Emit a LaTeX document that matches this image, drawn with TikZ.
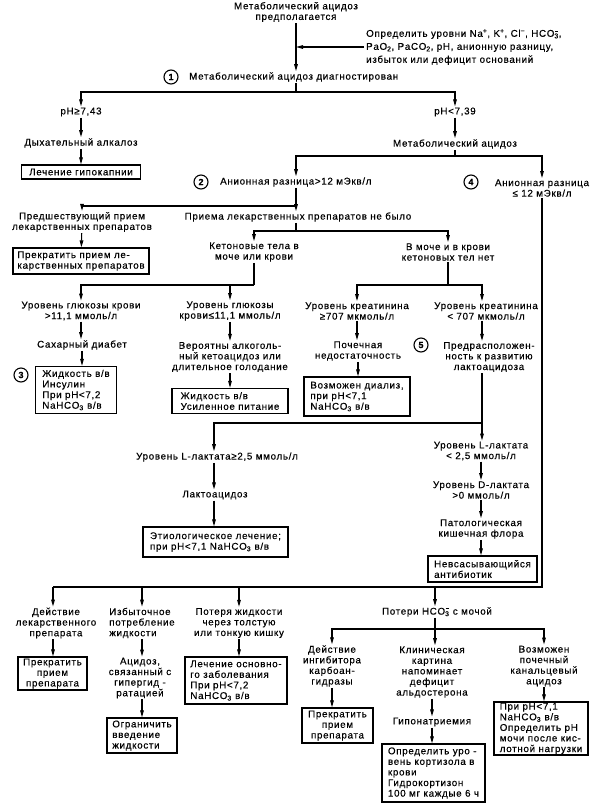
\documentclass[tikz,border=0pt]{standalone}
\usepackage{fontspec}
\setmainfont{Liberation Sans}[LetterSpace=7,FakeBold=0.4]
\usetikzlibrary{arrows.meta}
\newcommand{\hco}{HCO\rlap{\raisebox{5.6pt}{\kern0.6pt\rule{3.4pt}{0.55pt}}}\textsubscript{3}}
\newcommand{\nah}{NaHCO\textsubscript{3}}
\begin{document}
\begin{tikzpicture}[x=1pt,y=-1pt,font=\fontsize{9.8}{10.6}\selectfont,
 txt/.style={inner sep=1pt, align=center},
 bx/.style={draw, line width=1.3pt, inner xsep=2pt, inner ysep=1pt, align=left},
 num/.style={circle, draw, line width=1.1pt, inner sep=0pt, minimum size=14pt, font=\bfseries\fontsize{9}{10}\selectfont},
 ln/.style={line width=1.1pt},
 arr/.style={line width=1.1pt, -{Triangle[length=7pt,width=3.6pt]}}]
\useasboundingbox (0,0) rectangle (600,807);

\node[txt] (t0) at (296,12) {Метаболический ацидоз\\предполагается};
\node[txt,align=left,anchor=west,font=\fontsize{9.8}{13}\selectfont,inner sep=2pt] (side) at (364,47) {Определить уровни Na\textsuperscript{+}, K\textsuperscript{+}, Cl\textsuperscript{−}, \hco,\\PaO\textsubscript{2}, PaCO\textsubscript{2}, pH, анионную разницу,\\избыток или дефицит оснований};
\node[num] (k1) at (171,77) {1};
\node[txt,anchor=west] (n1) at (188,77) {Метаболический ацидоз диагностирован};
\coordinate (j1) at (296,92);
\node[txt] (ph1) at (81,112) {pH≥7,43};
\node[txt] (ph2) at (455,112) {pH<7,39};
\node[txt] (dy) at (81,143) {Дыхательный алкалоз};
\node[bx,minimum width=119pt,minimum height=14pt] (bx1) at (81,172) {Лечение гипокапнии};
\node[txt] (ma) at (455,144) {Метаболический ацидоз};
\coordinate (j2) at (455,156);
\node[num] (k2) at (201,182) {2};
\node[txt,anchor=west] (n2) at (219,182) {Анионная разница>12 мЭкв/л};
\node[num] (k4) at (471,182) {4};
\node[txt] (n4) at (542,188) {Анионная разница\\≤ 12 мЭкв/л};
\coordinate (j3) at (296,206);
\node[txt] (pp) at (82,222) {Предшествующий прием\\лекарственных препаратов};
\node[bx,minimum width=136pt,minimum height=26pt] (bx2) at (81,261) {Прекратить прием ле-\\карственных препаратов};
\node[txt] (nb) at (298,217) {Приема лекарственных препаратов не было};
\coordinate (j4) at (296,231);
\node[txt] (ket) at (254,252) {Кетоновые тела в\\моче или крови};
\node[txt] (nok) at (448,252) {В моче и в крови\\кетоновых тел нет};
\coordinate (j5) at (254,285);
\coordinate (j6) at (448,285);
\node[txt] (g1) at (81,311) {Уровень глюкозы крови\\>11,1 ммоль/л};
\node[txt] (g2) at (230,311) {Уровень глюкозы\\крови≤11,1 ммоль/л};
\node[txt] (cr1) at (357,311) {Уровень креатинина\\≥707 мкмоль/л};
\node[txt] (cr2) at (486,311) {Уровень креатинина\\< 707 мкмоль/л};
\coordinate (cC) at (482,0);
\node[txt] (sd) at (82,345) {Сахарный диабет};
\node[num] (k3) at (21,375) {3};
\node[bx,minimum width=81pt,minimum height=47pt] (bx3) at (76,390) {Жидкость в/в\\Инсулин\\При pH<7,2\\\nah{} в/в};
\node[txt] (va) at (230,357) {Вероятны алкоголь-\\ный кетоацидоз или\\длительное голодание};
\node[bx,minimum width=116pt,minimum height=25pt] (bx4) at (230,401) {Жидкость в/в\\Усиленное питание};
\node[txt] (pn) at (358,351) {Почечная\\недостаточность};
\node[bx,minimum width=106pt,minimum height=39pt] (bx5) at (357,396.5) {Возможен диализ,\\при pH<7,1\\\nah{} в/в};
\node[num] (k5) at (421,345) {5};
\node[txt] (pr5) at (489,357) {Предрасположен-\\ность к развитию\\лактоацидоза};
\coordinate (j7) at (482,423);
\node[txt] (ll1) at (217,457) {Уровень L-лактата≥2,5 ммоль/л};
\coordinate (cL) at (214,0);
\node[txt] (ll2) at (481,451) {Уровень L-лактата\\< 2,5 ммоль/л};
\node[txt] (la) at (215,495) {Лактоацидоз};
\node[bx,minimum width=145pt,minimum height=30pt] (bx6) at (215.5,542) {Этиологическое лечение;\\при pH<7,1 \nah{} в/в};
\node[txt] (dl) at (481,490) {Уровень D-лактата\\>0 ммоль/л};
\node[txt] (pf) at (481,529) {Патологическая\\кишечная флора};
\node[bx,minimum width=109pt,minimum height=26pt] (bx7) at (482.5,569) {Невсасывающийся\\антибиотик};
\coordinate (j9) at (53,587);
\node[txt] (d1) at (56,623) {Действие\\лекарственного\\препарата};
\node[bx,align=center,minimum width=69pt,minimum height=33pt] (bx8) at (52.5,673.5) {Прекратить\\прием\\препарата};
\node[txt,align=left] (d2) at (142,623) {Избыточное\\потребление\\жидкости};
\node[txt] (d2b) at (140,678) {Ацидоз,\\связанный с\\гипергид -\\ратацией};
\node[bx,minimum width=70pt,minimum height=35pt] (bx9) at (142,735.5) {Ограничить\\введение\\жидкости};
\node[txt] (d3) at (239,623) {Потеря жидкости\\через толстую\\или тонкую кишку};
\node[bx,minimum width=102pt,minimum height=47pt] (bx10) at (236,680.5) {Лечение основно-\\го заболевания\\При pH<7,2\\\nah{} в/в};
\node[txt] (ph) at (437,612) {Потери \hco{} с мочой};
\coordinate (j10) at (435,629);
\node[txt] (e1) at (332,666) {Действие\\ингибитора\\карбоан-\\гидразы};
\node[bx,align=center,minimum width=71pt,minimum height=35pt] (bx11) at (337.5,725.5) {Прекратить\\прием\\препарата};
\node[txt] (e2) at (432,672) {Клиническая\\картина\\напоминает\\дефицит\\альдостерона};
\node[txt] (gn) at (432,722) {Гипонатриемия};
\node[bx,minimum width=103pt,minimum height=58pt] (bx12) at (433.5,773) {Определить уро -\\вень кортизола в\\крови\\Гидрокортизон\\100 мг каждые 6 ч};
\node[txt] (e3) at (544,666) {Возможен\\почечный\\канальцевый\\ацидоз};
\node[bx,minimum width=94pt,minimum height=49pt] (bx13) at (541,728.5) {При pH<7,1\\\nah{} в/в\\Определить pH\\мочи после кис-\\лотной нагрузки};

\draw[arr] (t0) -- (n1.north -| t0);
\draw[arr] (side.west) -- (side.west -| t0);
\draw[ln] (n1.south -| t0) -- (j1);
\draw[arr] (j1) -| (ph1);
\draw[arr] (j1) -| (ph2);
\draw[arr] (ph1) -- (dy);
\draw[arr] (dy) -- (bx1);
\draw[arr] (ph2) -- (ma);
\draw[ln] (ma) -- (j2);
\draw[arr] (j2) -| (n2.north -| j1);
\draw[arr] (j2) -| (n4);
\draw[ln] (n2.south -| j1) -- (j3);
\draw[arr] (j3) -| (pp);
\draw[arr] (j3) -- (nb.north -| j3);
\draw[arr] (pp) -- (bx2);
\draw[ln] (nb.south -| j4) -- (j4);
\draw[arr] (j4) -| (ket);
\draw[arr] (j4) -| (nok);
\draw[ln] (ket) -- (j5);
\draw[arr] (j5) -| (g1);
\draw[arr] (j5 -| g2) -- (g2);
\draw[ln] (nok) -- (j6);
\draw[arr] (j6) -| (cr1);
\draw[arr] (j6) -| (cr2.north -| cC);
\draw[arr] (g1) -- (g1 |- sd.north);
\draw[arr] (sd) -- (sd |- bx3.north);
\draw[arr] (g2) -- (va);
\draw[arr] (va) -- (va |- bx4.north);
\draw[arr] (cr1) -- (cr1 |- pn.north);
\draw[arr] (pn) -- (pn |- bx5.north);
\draw[arr] (cr2.south -| cC) -- (pr5.north -| cC);
\draw[ln] (pr5.south -| cC) -- (j7);
\draw[arr] (j7) -| (ll1.north -| cL);
\draw[arr] (j7) -- (ll2.north -| j7);
\draw[arr] (ll1.south -| cL) -- (la.north -| cL);
\draw[arr] (la.south -| cL) -- (cL |- bx6.north);
\draw[arr] (ll2) -- (dl);
\draw[arr] (dl) -- (pf);
\draw[arr] (pf) -- (pf |- bx7.north);
\draw[ln] (n4.south) |- (j9);
\draw[arr] (j9) -- (j9 |- d1.north);
\draw[arr] (j9 -| d2) -- (d2);
\draw[arr] (j9 -| d3) -- (d3);
\draw[arr] (j9 -| j10) -- (ph.north -| j10);
\draw[arr] (d1.south -| j9) -- (j9 |- bx8.north);
\draw[arr] (d2) -- (d2 |- d2b.north);
\draw[arr] (d2b.south -| d2) -- (d2 |- bx9.north);
\draw[arr] (d3) -- (d3 |- bx10.north);
\draw[ln] (ph.south -| j10) -- (j10);
\draw[arr] (j10) -| (e1);
\draw[arr] (j10) -| (e3);
\draw[arr] (j10) -- (j10 |- e2.north);
\draw[arr] (e1) -- (e1 |- bx11.north);
\draw[arr] (e2) -- (gn);
\draw[arr] (gn) -- (gn |- bx12.north);
\draw[arr] (e3) -- (e3 |- bx13.north);
\end{tikzpicture}
\end{document}
